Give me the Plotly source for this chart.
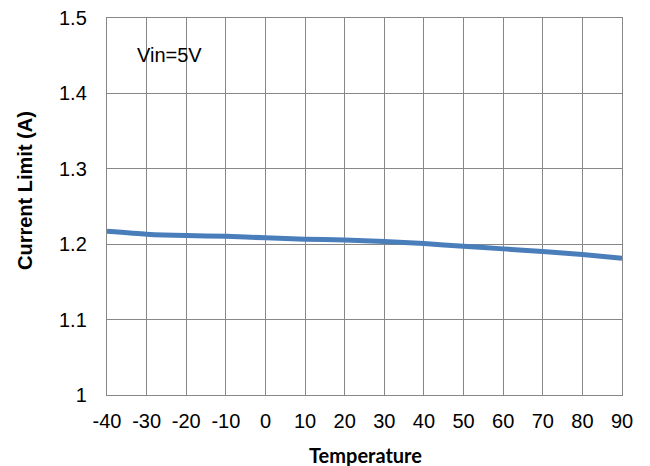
import plotly.graph_objects as go

temperature = [-40, -30, -20, -10, 0, 10, 20, 30, 40, 50, 60, 70, 80, 90]
current_limit = [1.2172, 1.2133, 1.2114, 1.2106, 1.2084, 1.2066, 1.2057, 1.2035,
                 1.2008, 1.1973, 1.1938, 1.1902, 1.1862, 1.1814]

x_ticks = [-40, -30, -20, -10, 0, 10, 20, 30, 40, 50, 60, 70, 80, 90]
x_ticktext = ["-40", "-30", "-20", "-10", "0", "10", "20", "30", "40", "50", "60", "70", "80", "90"]
y_ticks = [1.0, 1.1, 1.2, 1.3, 1.4, 1.5]
y_ticktext = ["1", "1.1", "1.2", "1.3", "1.4", "1.5"]

grid = "#878787"

W, H = 650, 466
L, R, T, B = 107, 28, 18, 71

fig = go.Figure()
fig.add_trace(go.Scatter(
    x=temperature, y=current_limit, mode="lines",
    line=dict(color="#4A7EBB", width=5, shape="spline", smoothing=0.6),
    showlegend=False, hoverinfo="skip",
))

fig.update_layout(
    width=W, height=H,
    margin=dict(l=L, r=R, t=T, b=B, autoexpand=False),
    paper_bgcolor="white", plot_bgcolor="white",
    font=dict(family="Liberation Sans, Arial, sans-serif", color="black"),
    xaxis=dict(
        range=[-40, 90], tickvals=x_ticks, ticktext=x_ticktext, showgrid=True,
        gridcolor=grid, gridwidth=1.4, automargin=False, ticklabeloverflow="allow",
        showline=True, linecolor=grid, linewidth=1.4, mirror=True, zeroline=False,
        ticks="", ticklabelstandoff=8, tickfont=dict(size=20),
    ),
    yaxis=dict(
        range=[1.0, 1.5], tickvals=y_ticks, ticktext=y_ticktext, showgrid=True,
        gridcolor=grid, gridwidth=1.4, showline=True, linecolor=grid, linewidth=1.4,
        mirror=True, zeroline=False, ticks="", ticklabelstandoff=15, tickfont=dict(size=20),
        automargin=False, ticklabeloverflow="allow",
    ),
)

# annotations positioned by target page pixels, converted to paper coordinates
pw, ph = W - L - R, H - T - B
def px(x):
    return (x - L) / pw
def py(y):
    return 1 - (y - T) / ph

fig.add_annotation(text="Vin=5V", x=px(135), y=py(55), xref="paper", yref="paper",
                   showarrow=False, font=dict(size=20), xanchor="left", yanchor="middle")
fig.add_annotation(text="<b>Current Limit (A)</b>", x=px(25), y=py(191), xref="paper",
                   yref="paper", showarrow=False, font=dict(size=20), textangle=-90,
                   xanchor="center", yanchor="middle")
fig.add_annotation(text="<b>Temperature</b>", x=px(365), y=py(455), xref="paper",
                   yref="paper", showarrow=False,
                   font=dict(size=20, family="Lato, Open Sans, sans-serif"),
                   xanchor="center", yanchor="middle")

fig.write_html("out.html", config={"displayModeBar": False},
               post_script="document.body.style.margin='0';document.body.style.overflow='hidden';")
